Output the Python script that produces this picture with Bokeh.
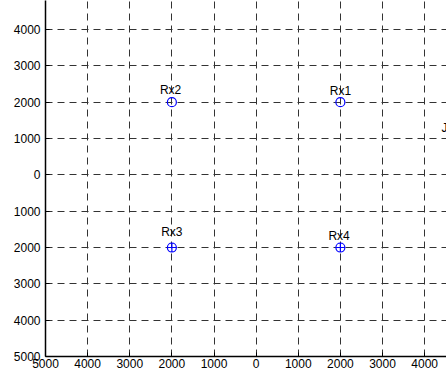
from bokeh.plotting import figure
from bokeh.models import ColumnDataSource, FixedTicker, Range1d
from bokeh.core.properties import value
from bokeh.embed import file_html
from bokeh.resources import INLINE

# ---- data ----
rx_names = ["Rx1", "Rx2", "Rx3", "Rx4"]
rx_x = [2000, -2000, -2000, 2000]
rx_y = [2000, 2000, -2000, -2000]
rx_markers = ["circle", "circle", "circle_cross", "circle_cross"]
label_x = [2000, -2030, -2000, 1970]
label_y = [2310, 2340, -1580, -1690]
extra_text = ["J"]
extra_x = [4400]
extra_y = [1280]
tick_values = [-5000, -4000, -3000, -2000, -1000, 0, 1000, 2000, 3000, 4000]
tick_labels = ["5000", "4000", "3000", "2000", "1000", "0", "1000", "2000", "3000", "4000"]

FONT = "Liberation Sans"

p = figure(width=446, height=370, output_backend="svg", toolbar_location=None,
           x_range=Range1d(-5000, 4519), y_range=Range1d(-5000, 4800),
           min_border_left=45, min_border_right=0, min_border_top=0, min_border_bottom=0)
p.outline_line_color = None
p.background_fill_color = "white"
p.border_fill_color = "white"

overrides = {v: t for v, t in zip(tick_values, tick_labels)}
for ax in (p.xaxis[0], p.yaxis[0]):
    ax.ticker = FixedTicker(ticks=tick_values)
    ax.major_label_overrides = overrides
    ax.major_label_text_font = FONT
    ax.major_label_text_font_size = "12px"
    ax.major_label_text_color = "black"
    ax.axis_line_color = "black"
    ax.axis_line_width = 1.5
    ax.major_tick_in = 4
    ax.major_tick_out = 0
    ax.minor_tick_in = 0
    ax.minor_tick_out = 0
    ax.major_tick_line_color = "black"
    ax.major_label_standoff = 5
p.xaxis[0].major_label_standoff = 2

for g in (p.xgrid[0], p.ygrid[0]):
    g.ticker = FixedTicker(ticks=tick_values)
    g.grid_line_color = "#333333"
    g.grid_line_alpha = 1.0
    g.grid_line_dash = "7 5"
    g.grid_line_width = 1

src = ColumnDataSource(dict(x=rx_x, y=rx_y, m=rx_markers, lx=label_x, ly=label_y, name=rx_names))
p.scatter("x", "y", source=src, marker="m", size=9, fill_color=None,
          line_color="#0000ff", line_width=1.2)
p.text("lx", "ly", text="name", source=src, text_font=value(FONT), text_font_size="12px",
       text_align="center", text_baseline="middle", text_color="black")
p.text(extra_x, extra_y, text=extra_text, text_font=value(FONT), text_font_size="12px",
       text_align="left", text_baseline="middle", text_color="black")

open("out.html", "w").write(file_html(p, INLINE))
